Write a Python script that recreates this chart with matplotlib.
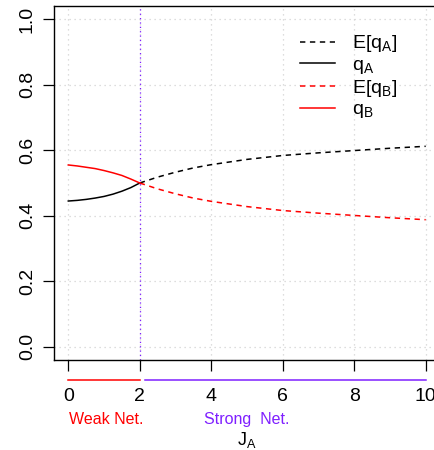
import matplotlib
matplotlib.use('Agg')
import matplotlib.pyplot as plt
import matplotlib.transforms as mtransforms

plt.rcParams['font.family'] = ['Liberation Sans', 'DejaVu Sans']
plt.rcParams['mathtext.fontset'] = 'custom'
plt.rcParams['mathtext.rm'] = 'Liberation Sans'

# weak network region (actual shares)
j_weak = [0.0, 0.25, 0.5, 0.75, 1.0, 1.25, 1.5, 1.75, 2.0]
q_a = [0.445, 0.447, 0.450, 0.454, 0.459, 0.466, 0.475, 0.486, 0.500]
q_b = [0.555, 0.552, 0.548, 0.544, 0.538, 0.531, 0.523, 0.512, 0.500]

# strong network region (expected shares)
j_strong = [2.0, 2.5, 3.0, 3.5, 4.0, 5.0, 6.0, 7.0, 8.0, 9.0, 10.0]
e_q_a = [0.500, 0.518, 0.533, 0.546, 0.556, 0.572, 0.584, 0.592, 0.599, 0.606, 0.612]
e_q_b = [0.500, 0.482, 0.467, 0.454, 0.444, 0.428, 0.416, 0.408, 0.401, 0.394, 0.388]

x_ticks = [0, 2, 4, 6, 8, 10]
y_ticks = [0.0, 0.2, 0.4, 0.6, 0.8, 1.0]
threshold = 2.0

PURPLE = '#7f1fff'
GRID = '#d3d3d3'

fig = plt.figure(figsize=(4.35, 4.5), dpi=100)
ax = fig.add_axes([54 / 435, 1 - 360 / 450, 386 / 435, 354 / 450])

for x in x_ticks:
    ax.axvline(x, color=GRID, lw=0.9, ls=(0, (1, 3)), zorder=0)
for y in y_ticks:
    ax.axhline(y, color=GRID, lw=0.9, ls=(0, (1, 3)), zorder=0)
ax.axvline(threshold, color=PURPLE, lw=0.9, ls=(0, (1, 2.5)), zorder=1)

dash = (0, (3.5, 3))
ax.plot(j_strong, e_q_a, color='black', lw=1.1, ls=dash, label='E[q$_\\mathregular{A}$]')
ax.plot(j_weak, q_a, color='black', lw=1.1, label='q$_\\mathregular{A}$')
ax.plot(j_strong, e_q_b, color='red', lw=1.1, ls=dash, label='E[q$_\\mathregular{B}$]')
ax.plot(j_weak, q_b, color='red', lw=1.1, label='q$_\\mathregular{B}$')

ax.set_xlim(-0.4, 10.4)
ax.set_ylim(-0.04, 1.04)
ax.set_xticks(x_ticks)
ax.set_yticks(y_ticks)
ax.set_yticklabels([f'{v:.1f}' for v in y_ticks], rotation=90, va='center')
ax.tick_params(axis='both', direction='out', length=8, width=0.9, labelsize=14)
ax.tick_params(axis='x', pad=12)
ax.tick_params(axis='y', pad=5)
for s in ax.spines.values():
    s.set_linewidth(1.0)

# network regime bars under the x axis
trans = mtransforms.blended_transform_factory(ax.transData, ax.transAxes)
ax.plot([0, threshold], [-0.0565, -0.0565], color='red', lw=1.1,
        transform=trans, clip_on=False)
ax.plot([threshold + 0.15, 10], [-0.0565, -0.0565], color=PURPLE, lw=1.1,
        transform=trans, clip_on=False)
ax.text(1.07, -0.168, 'Weak Net.', color='red', fontsize=11.5, ha='center',
        va='center', transform=trans)
ax.text(5.0, -0.168, 'Strong  Net.', color=PURPLE, fontsize=11.5, ha='center',
        va='center', transform=trans)
ax.text(5.0, -0.227, 'J$_\\mathregular{A}$', fontsize=13, ha='center',
        va='center', transform=trans)

ax.legend(loc='upper left', bbox_to_anchor=(0.611, 0.95), frameon=False,
          fontsize=14, handlelength=1.8, handletextpad=0.9, labelspacing=0.1,
          borderpad=0)

fig.savefig('out.png', dpi=100)
